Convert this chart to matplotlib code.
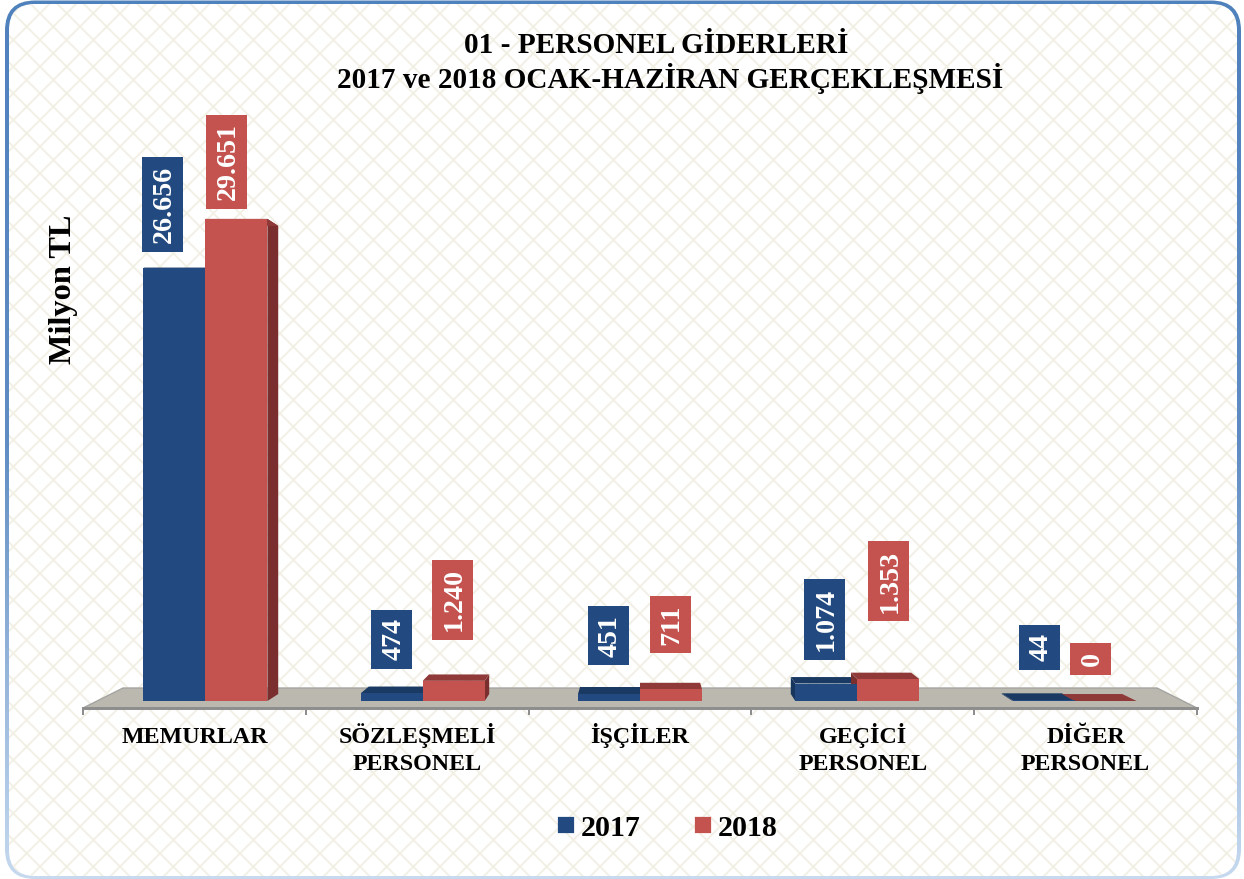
import matplotlib
matplotlib.use('Agg')
import matplotlib.pyplot as plt
import numpy as np
from matplotlib.colors import LinearSegmentedColormap
from matplotlib.lines import Line2D
from matplotlib.patches import FancyBboxPatch, Rectangle
from matplotlib.transforms import IdentityTransform

W, H, DPI = 1244, 879, 160

categories = ['MEMURLAR', 'SÖZLEŞMELİ\nPERSONEL', 'İŞÇİLER', 'GEÇİCİ\nPERSONEL', 'DİĞER\nPERSONEL']
values_2017 = [26656, 474, 451, 1074, 44]
values_2018 = [29651, 1240, 711, 1353, 0]
labels_2017 = ['26.656', '474', '451', '1.074', '44']
labels_2018 = ['29.651', '1.240', '711', '1.353', '0']

# label box centre relative to bar top, in pixels
off_2017 = [(-12, 63), (0, 54), (-1, 58), (-2, 64), (-4, 53)]
off_2018 = [(-10, 57), (-1, 81), (-1, 65), (0, 98), (-15, 42)]

BLUE, BLUE_TOP, BLUE_SIDE = '#224a80', '#1a3a63', '#17365d'
RED, RED_TOP, RED_SIDE = '#c4534f', '#8f3a38', '#7a2e2d'

plt.rcParams['font.family'] = ['Liberation Serif', 'DejaVu Serif']
plt.rcParams['font.weight'] = 'bold'
plt.rcParams['hatch.linewidth'] = 0.85

fig = plt.figure(figsize=(W / DPI, H / DPI), dpi=DPI, facecolor='white')
px = IdentityTransform()

# border: vertical gradient clipped to the outer rounded box
outer = FancyBboxPatch((5, 0), 1236, 878.5, boxstyle='round,pad=0,rounding_size=30', transform=px,
                       facecolor='none', linewidth=0)
bax = fig.add_axes([0, 0, 1, 1], zorder=-3)
bax.axis('off')
grad = LinearSegmentedColormap.from_list('edge', ['#4f81bd', '#5f8cc3', '#c6d9ef'])
im = bax.imshow(np.linspace(0, 1, 256).reshape(-1, 1), cmap=grad, aspect='auto', extent=(0, 1, 0, 1))
im.set_clip_path(outer)

inner = FancyBboxPatch((9, 3), 1228, 872, boxstyle='round,pad=0,rounding_size=26', transform=px,
                       facecolor='white', edgecolor='none', linewidth=0, zorder=-2)
fig.add_artist(inner)
lattice = FancyBboxPatch((9, 3), 1228, 872, boxstyle='round,pad=0,rounding_size=26', transform=px,
                         facecolor='none', edgecolor='#f2f0e5', hatch='xx', linewidth=0, zorder=-1)
fig.add_artist(lattice)

# axes: x 83..1197 px, y from front floor edge (708) up to 100
ax = fig.add_axes([83 / W, (H - 708) / H, (1197 - 83) / W, 608 / H])
ax.patch.set_alpha(0)
PX_Y = 61.5  # value units per pixel
PX_X = 1 / 222.8
ax.set_xlim(0, 5)
ax.set_ylim(-7 * PX_Y, 601 * PX_Y)

# perspective of the 3d box
VP_X, VP_Y, T = 2.5, 14820, 0.029


def back(x, y):
    return x + (VP_X - x) * T, y + (VP_Y - y) * T


# floor
floor_x = [0, 5, 5 - 40 * PX_X, 40 * PX_X]
floor_y = [-7 * PX_Y, -7 * PX_Y, 13 * PX_Y, 13 * PX_Y]
ax.fill(floor_x, floor_y, facecolor='#bbb8af', edgecolor='#a3a3a0', linewidth=0.6, zorder=1)

bar_w = 62 * PX_X
centers = [2.5 + (i - 2) * 0.9753 for i in range(5)]


def draw_bar(x0, value, top, side):
    x1 = x0 + bar_w
    for xf in (x0, x1):
        xb = back(xf, 0)[0]
        outer_face = (xf == x0 and xb < xf) or (xf == x1 and xb > xf)
        if outer_face and value > 0:
            ax.fill([xf, xf, back(xf, value)[0], back(xf, 0)[0]],
                    [0, value, back(xf, value)[1], back(xf, 0)[1]],
                    color=side, linewidth=0, zorder=3)
    ax.fill([x0, x1, back(x1, value)[0], back(x0, value)[0]],
            [value, value, back(x1, value)[1], back(x0, value)[1]],
            color=top, linewidth=0, zorder=3)


for i, c in enumerate(centers):
    draw_bar(c - bar_w, values_2017[i], BLUE_TOP, BLUE_SIDE)
    draw_bar(c, values_2018[i], RED_TOP, RED_SIDE)

ax.bar([c - bar_w / 2 for c in centers], values_2017, bar_w, color=BLUE, zorder=4)
ax.bar([c + bar_w / 2 for c in centers], values_2018, bar_w, color=RED, zorder=4)

# value labels, box is drawn from the measured text length
renderer = fig.canvas.get_renderer()
for i, c in enumerate(centers):
    for xc, v, txt, off, col in ((c - bar_w / 2, values_2017[i], labels_2017[i], off_2017[i], BLUE),
                                 (c + bar_w / 2, values_2018[i], labels_2018[i], off_2018[i], RED)):
        t = ax.annotate(txt, (xc, v), xytext=(off[0] + 2, off[1]), textcoords='offset pixels', rotation=90,
                        ha='center', va='center', color='white', fontsize=12.6, zorder=6)
        bb = t.get_window_extent(renderer)
        bx, by = ax.transData.transform((xc, v))
        box_h = bb.height + 17
        ax.add_patch(Rectangle((bx + off[0] - 20.5, by + off[1] - box_h / 2), 41, box_h, transform=px,
                               facecolor=col, edgecolor='none', zorder=5, clip_on=False))

# axis
for s in ('top', 'left', 'right'):
    ax.spines[s].set_visible(False)
ax.spines['bottom'].set_color('#8e8e8e')
ax.spines['bottom'].set_linewidth(1.35)
ax.set_yticks([])
ax.set_xticks(range(6))
ax.set_xticklabels([])
ax.tick_params(axis='x', length=3.2, width=0.9, color='#8e8e8e')

# category names, one text per line so the baselines stay level
for i, name in enumerate(categories):
    for j, line in enumerate(name.split('\n')):
        ax.annotate(line, (i + 0.5, -7 * PX_Y), xytext=(0, -35 - 27 * j), textcoords='offset pixels',
                    ha='center', va='baseline', fontsize=10.8)

fig.text(656 / W, 1 - 53 / H, '01 - PERSONEL GİDERLERİ', ha='center', va='baseline', fontsize=13.2)
fig.text(670.5 / W, 1 - 88 / H, '2017 ve 2018 OCAK-HAZİRAN GERÇEKLEŞMESİ', ha='center', va='baseline', fontsize=13.2)
fig.text(64 / W, 1 - 289 / H, 'Milyon TL', rotation=90, ha='center', va='center', fontsize=14.6)

handles = [Line2D([], [], marker='s', linestyle='', markersize=6.7, color=BLUE, label='2017'),
           Line2D([], [], marker='s', linestyle='', markersize=6.7, color=RED, label='2018')]
fig.legend(handles=handles, loc='center', bbox_to_anchor=(668 / W, 1 - 828 / H), ncol=2, frameon=False,
           fontsize=13.5, numpoints=1, handlelength=0.5, handletextpad=0.25, columnspacing=1.8)

fig.savefig('out.png', dpi=DPI)
